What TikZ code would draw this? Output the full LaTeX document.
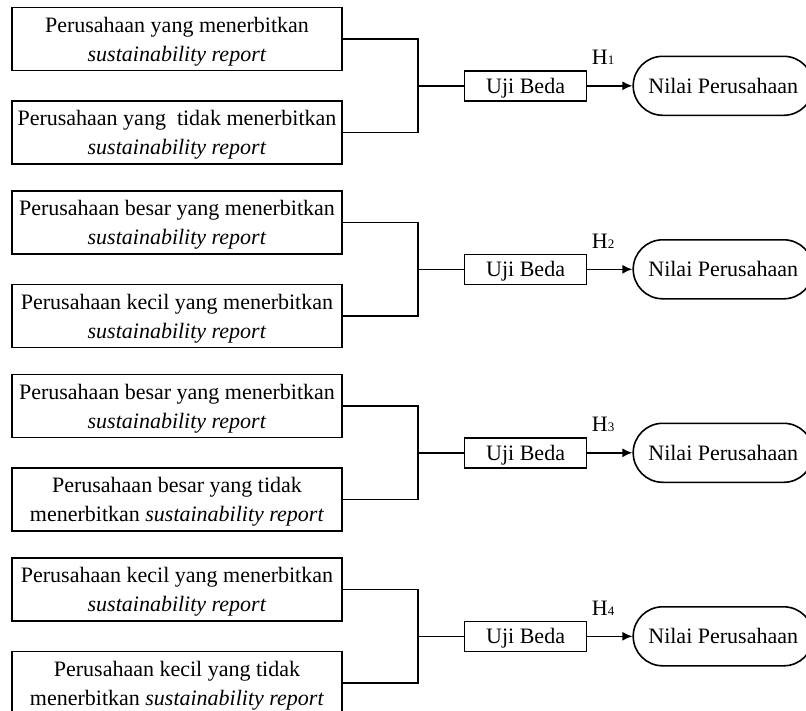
\documentclass[tikz,border=0pt]{standalone}
\usepackage{fontspec}
\setmainfont{Liberation Serif}
\usetikzlibrary{positioning,calc,shapes.misc,arrows.meta}

\begin{document}
\begin{tikzpicture}[x=1pt,y=-1pt,>={Latex[length=10pt,width=9pt]},line width=1.6pt,
                    font=\fontsize{22}{29}\selectfont,
                    group box/.style={rectangle,draw,minimum width=330pt,minimum height=63pt,align=center,inner sep=2pt,text depth=0pt},
                    test box/.style={rectangle,draw,minimum width=122pt,minimum height=30pt,inner sep=2pt,text depth=0pt},
                    value node/.style={rounded rectangle,draw,minimum width=184pt,minimum height=59pt,inner sep=2pt}]
  \useasboundingbox (0,0) rectangle (806,710);

  % Group 1
  \node[group box] (P1) at (177,39) {Perusahaan yang menerbitkan\\ \textit{sustainability report}};
  \node[group box] (Q1) [below=29pt of P1] {Perusahaan yang~ tidak menerbitkan\\ \textit{sustainability report}};
  \coordinate (J1) at ($(P1.east)!0.5!(Q1.east)+(75,0)$);
  \node[test box] (U1) [right=46pt of J1] {Uji Beda};
  \node[value node] (N1) [right=45pt of U1] {Nilai Perusahaan};

  % Group 2
  \node[group box] (P2) at (177,222.5) {Perusahaan besar yang menerbitkan\\ \textit{sustainability report}};
  \node[group box] (Q2) [below=29pt of P2] {Perusahaan kecil yang menerbitkan\\ \textit{sustainability report}};
  \coordinate (J2) at ($(P2.east)!0.5!(Q2.east)+(75,0)$);
  \node[test box] (U2) [right=46pt of J2] {Uji Beda};
  \node[value node] (N2) [right=45pt of U2] {Nilai Perusahaan};

  % Group 3
  \node[group box] (P3) at (177,406) {Perusahaan besar yang menerbitkan\\ \textit{sustainability report}};
  \node[group box] (Q3) [below=29pt of P3] {Perusahaan besar yang tidak\\ menerbitkan \textit{sustainability report}};
  \coordinate (J3) at ($(P3.east)!0.5!(Q3.east)+(75,0)$);
  \node[test box] (U3) [right=46pt of J3] {Uji Beda};
  \node[value node] (N3) [right=45pt of U3] {Nilai Perusahaan};

  % Group 4
  \node[group box] (P4) at (177,589.5) {Perusahaan kecil yang menerbitkan\\ \textit{sustainability report}};
  \node[group box] (Q4) [below=29pt of P4] {Perusahaan kecil yang tidak\\ menerbitkan \textit{sustainability report}};
  \coordinate (J4) at ($(P4.east)!0.5!(Q4.east)+(75,0)$);
  \node[test box] (U4) [right=46pt of J4] {Uji Beda};
  \node[value node] (N4) [right=45pt of U4] {Nilai Perusahaan};

  % Edges
  \draw (P1.east) -| (J1) |- (Q1.east);
  \draw (J1) -- (U1);
  \draw[->] (U1) -- node[above=17pt,pos=0.35] (H1) {H{\fontsize{13}{13}\selectfont 1}} (N1);

  \draw (P2.east) -| (J2) |- (Q2.east);
  \draw (J2) -- (U2);
  \draw[->] (U2) -- node[above=17pt,pos=0.35] (H2) {H{\fontsize{13}{13}\selectfont 2}} (N2);

  \draw (P3.east) -| (J3) |- (Q3.east);
  \draw (J3) -- (U3);
  \draw[->] (U3) -- node[above=17pt,pos=0.35] (H3) {H{\fontsize{13}{13}\selectfont 3}} (N3);

  \draw (P4.east) -| (J4) |- (Q4.east);
  \draw (J4) -- (U4);
  \draw[->] (U4) -- node[above=17pt,pos=0.35] (H4) {H{\fontsize{13}{13}\selectfont 4}} (N4);
\end{tikzpicture}
\end{document}
